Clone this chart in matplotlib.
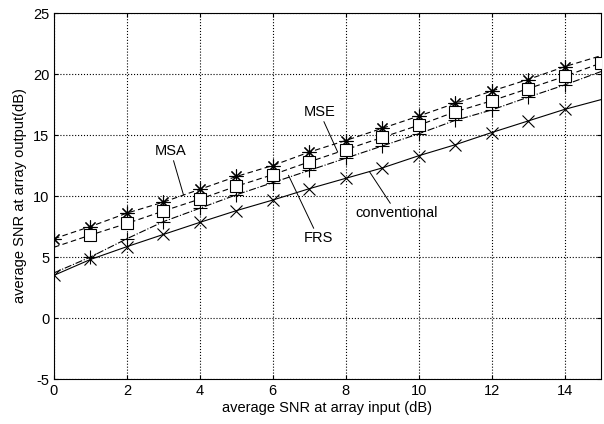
import matplotlib
matplotlib.use("Agg")
import matplotlib.pyplot as plt
import numpy as np

plt.rcParams['font.family'] = ['Liberation Sans', 'DejaVu Sans']
plt.rcParams['axes.unicode_minus'] = False

snr_in = np.arange(0, 16)
msa = [6.5, 7.5, 8.6, 9.5, 10.55, 11.6, 12.5, 13.6, 14.55, 15.55, 16.55, 17.6, 18.6, 19.55, 20.6, 21.5]
mse = [5.8, 6.8, 7.75, 8.77, 9.75, 10.8, 11.75, 12.8, 13.8, 14.8, 15.8, 16.9, 17.8, 18.8, 19.8, 20.9]
frs = [3.7, 5.0, 6.5, 7.9, 9.0, 10.1, 11.1, 12.1, 13.1, 14.1, 15.1, 16.2, 17.05, 18.1, 19.1, 20.2]
conventional = [3.5, 4.8, 5.85, 6.85, 7.84, 8.8, 9.67, 10.6, 11.45, 12.3, 13.3, 14.2, 15.2, 16.15, 17.1, 17.9]

xticks = [0, 2, 4, 6, 8, 10, 12, 14]
yticks = [-5, 0, 5, 10, 15, 20, 25]

fig = plt.figure(figsize=(6.04, 4.24), dpi=100)
ax = fig.add_axes([0.0894, 0.1061, 0.9056, 0.8632])

ax.plot(snr_in, conventional, '-', color='k', lw=0.8, marker='x', ms=9, mew=0.8,
        markevery=list(range(0, 15)), zorder=3)
ax.plot(snr_in, msa, '--', color='k', lw=0.8, marker=(8, 2, 0), ms=10, mew=0.8,
        markevery=list(range(0, 15)), zorder=3, dashes=(5, 3))
ax.plot(snr_in, frs, '-.', color='k', lw=0.8, marker='+', ms=10, mew=0.8,
        markevery=list(range(1, 15)), zorder=3)
ax.plot(snr_in, mse, '--', color='k', lw=0.8, marker='s', ms=8, mew=0.8, mfc='white',
        markevery=list(range(1, 16)), zorder=4, dashes=(5, 3))

ax.set_xlim(0, 15)
ax.set_ylim(-5, 25)
ax.set_xticks(xticks)
ax.set_yticks(yticks)
ax.tick_params(direction='in', length=3, labelsize=10.5, top=True, right=True,
               labeltop=False, labelright=False)
ax.grid(True, linestyle=':', color='k', lw=0.8)
for s in ax.spines.values():
    s.set_linewidth(0.8)

ax.set_xlabel('average SNR at array input (dB)', fontsize=10.5, labelpad=2)
ax.set_ylabel('average SNR at array output(dB)', fontsize=10.5, labelpad=4)

ann = dict(arrowprops=dict(arrowstyle='-', color='k', lw=0.7, shrinkA=0, shrinkB=0),
           fontsize=10.5, ha='center', va='center')
ax.annotate('MSA', xy=(3.55, 10.1), xytext=(3.2, 13.7), **ann)
ax.annotate('MSE', xy=(7.78, 13.6), xytext=(7.28, 16.9), **ann)
ax.annotate('FRS', xy=(6.43, 11.7), xytext=(7.25, 6.55), **ann)
ax.annotate('conventional', xy=(8.65, 12.0), xytext=(9.4, 8.6), **ann)

fig.savefig('out.png', dpi=100)
